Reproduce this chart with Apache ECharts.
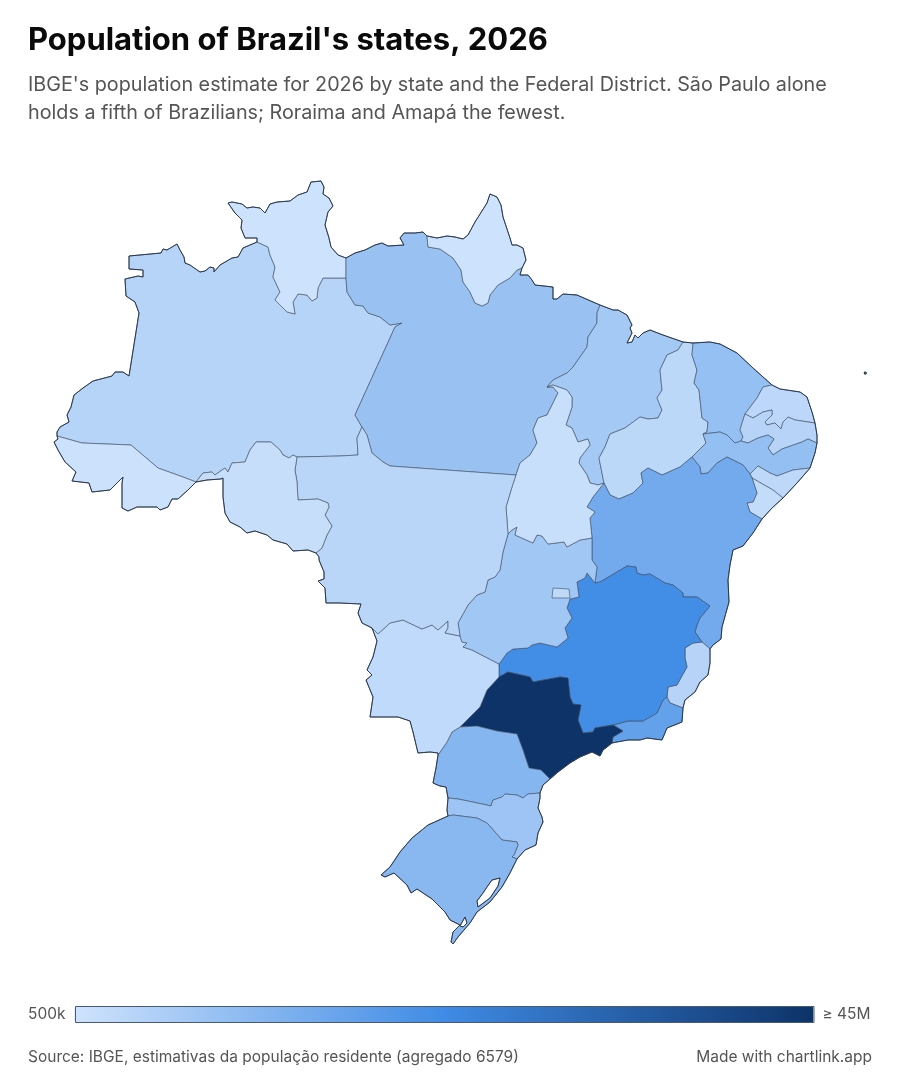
<!DOCTYPE html>
<html>
<head>
<meta charset="utf-8">
<title>Population of Brazil's states, 2026</title>
<script src="https://cdn.jsdelivr.net/npm/echarts@6/dist/echarts.min.js"></script>
<style>
html,body{margin:0;padding:0;background:#fff}
#chart{width:900px;height:1080px}
</style>
</head>
<body>
<div id="chart"></div>
<script>
// population by state, millions
var stateNames = ['Amazonas','Roraima','Pará','Amapá','Maranhão','Piauí','Ceará','Rio Grande do Norte','Paraíba','Pernambuco','Alagoas','Sergipe','Bahia','Espírito Santo','Rio de Janeiro','Minas Gerais','São Paulo','Paraná','Santa Catarina','Rio Grande do Sul','Mato Grosso do Sul','Goiás','Tocantins','Mato Grosso','Rondônia','Acre','Distrito Federal'];
var statePop = [4.4,0.75,8.9,0.8,7.1,3.4,9.4,3.5,4.2,9.7,3.3,2.3,14.9,4.2,17.2,22.3,46.6,11.9,8.3,11.3,2.9,7.6,1.6,3.9,1.8,0.9,3.0];
var legendMin = 0.5;
var legendMax = 45;
var legendTexts = ['≥ 45M','500k'];

// state borders traced on a 19.46 units-per-degree grid, flat x,y lists, converted to lon/lat below
var arcs = {
 amOut:[57,436,57,432,60,427,69,422,67,415,71,407,74,395,83,388,93,381,112,376,115,372,123,372,129,376,139,313,135,302,126,296,125,279,138,276,143,277,143,270,129,269,129,256,161,253,163,249,167,250,177,244,180,250,184,257,185,263,190,265,200,272,205,271,210,267,214,268,214,272,220,265,232,258,238,257,243,248,250,245,257,242],
 rrOut:[257,242,257,238,245,238,241,228,242,220,235,213,228,203,232,202,242,204,247,208,253,207,260,208,265,213,270,204,277,202,290,201,298,195,307,192,311,182,321,181,324,187,323,194,329,198,333,206,328,212,325,225,329,238,331,247,338,255,346,258],
 paOut1:[346,258,355,253,365,250,375,245,382,243,388,246,404,245,400,238,404,233,415,233,423,232,427,236],
 apOut:[427,236,437,238,447,236,455,237,463,239,468,235,475,222,487,203,490,194,497,197,501,205,503,217,510,238,512,245,517,245,523,248,526,260,522,268],
 paOut2:[522,268,520,275,528,275,532,280,535,285,553,287,553,299,557,299,563,294,577,295,593,302,600,305],
 maOut:[600,305,613,310,618,310,627,315,632,325,630,328,632,333,627,343,632,342,635,335,638,338,643,333,650,330,663,335,683,342],
 piOut:[683,342,693,343],
 ceOut:[693,343,710,342,720,344,737,353,753,368,772,385],
 rnOut:[772,385,780,389,800,392,807,397,812,412,815,423],
 pbOut:[815,423,817,435,817,443],
 peOut:[817,443,815,453,810,468],
 alOut:[810,468,797,483,783,498],
 seOut:[783,498,772,508,762,519],
 baOut:[762,519,753,533,743,546,733,550,730,565,728,580,729,602,722,627,721,639,713,645,710,649],
 esOut:[710,649,710,663,708,675,700,682,695,692,685,700,683,708],
 rjOut:[683,708,682,722,667,728,662,740,647,738,640,740,628,740,617,742,612,743],
 spOut:[612,743,607,747,603,750,600,756,592,752,580,757,570,763,558,772,550,779],
 prOut1:[550,779,543,785,540,793],
 scOut1:[540,793,540,798,538,808,542,817,543,822,538,833,536,845,525,850,517,859],
 rsOut:[517,859,510,873,502,887,490,902,477,912,470,923,458,937,453,944,451,942,453,932,460,925,450,920,445,912,432,899,417,889,411,893,407,885,394,873,385,877,381,875,390,867,400,852,412,838,428,825,448,816],
 scOut2:[448,816,447,810,448,798],
 prOut2:[448,798,446,787,440,786,433,783,436,768,438,755],
 msOut:[438,755,438,753,430,752,418,753,413,732,410,721,398,717,370,717,373,697,366,680,372,675,367,670,373,657,377,641,372,628],
 mtOut:[372,628,362,623,358,613,361,604,340,603,326,603,325,588,318,581,324,579,324,572,319,560,319,557,316,553],
 roOut:[316,553,308,550,293,551,287,544,273,540,267,535,255,531,247,533,240,527,230,522,225,513,223,497,223,478,221,479,207,480,196,482],
 acOut:[196,482,188,490,178,499,172,499,168,507,160,510,157,507,137,507,128,511,122,508,122,483,123,477,110,490,92,492,89,483,72,481,76,472,65,462,58,450,54,442,58,439,57,436],
 amAc:[57,436,82,443,131,445,158,468,183,477,196,482],
 amRo:[196,482,203,473,212,472,215,475,222,470,225,468,228,472,232,463,245,462,250,450,256,442,271,442,280,450,283,455,289,458,293,455,297,457],
 roMt:[297,457,295,470,297,482,298,500,318,499,328,503,329,507,325,515,332,526,327,535,322,548,316,553],
 amMt:[362,427,357,438,358,455,340,456,297,457],
 amRr:[257,242,268,247,270,255,275,267,273,277,280,292,275,300,287,312,295,314,293,302,298,294,307,295,312,301,317,298,318,288,323,278,346,278],
 rrPa:[346,258,346,278],
 amPa:[346,278,347,292,355,305,363,306,368,313,380,317,390,325,402,323,395,327,355,415,362,427],
 paMt:[362,427,367,435,372,453,383,462,390,466,516,475],
 paAp:[427,236,428,247,440,249,453,258,461,270,463,282,470,292,475,303,482,306,488,303,490,295,498,285,510,278,517,270,522,268],
 paTo:[516,475,520,463,530,455,537,443,533,430,538,418,547,415,553,403,558,393,553,387,547,387],
 paMa:[600,305,597,313,597,323,588,337,587,347,573,367,567,373,553,380,547,387],
 toMa:[547,387,553,385,567,390,572,397,572,407,566,425,572,428,578,442,588,439,590,445,580,458,579,463,587,475,590,483,598,485,604,483],
 maPi:[683,342,678,350,667,355,660,370,662,390,657,398,662,410,658,418,648,419,640,417,625,428,610,434,605,447,599,458,602,473,604,483],
 toBa:[604,483,593,497,587,507,595,512,590,518,592,538],
 toGo:[592,538,580,540,567,547,564,542,548,544,542,536,537,535,533,543,515,535,517,527,512,530,508,534],
 toMt:[516,475,512,487,506,507,508,534],
 mtGo:[508,534,503,552,500,570,495,577,488,580,485,592,477,595,468,605,458,623,460,636],
 mtMs:[372,628,378,634,390,623,403,620,422,629,432,625,438,630,448,621,448,628,445,633,460,636],
 goMs:[460,636,462,642,467,643,463,647,472,650,499,664],
 goMg:[499,664,507,653,513,649,528,648,532,645,540,643,557,647,568,638,565,628,572,618,567,608,570,599,579,597,577,582,585,578,587,573,595,583],
 goBa:[592,538,592,548,592,560,597,567,595,583],
 mgBa:[595,583,600,582,617,572,627,566,636,567,637,573,643,575,650,574,665,583,673,585,683,593,683,597,697,597,710,606,700,618,697,625,695,632,702,642],
 baEs:[702,642,710,649],
 mgEs:[702,642,693,643,685,648,685,658,687,667,683,674,677,685,668,687,667,697],
 esRj:[667,697,670,703,683,708],
 mgRj:[667,697,663,700,657,713,643,721,628,721,613,725],
 spRj:[613,725,623,731,613,737,612,743],
 msMg:[499,664,499,677],
 spMg:[499,677,508,672,530,677,533,682,560,677,568,678,570,697,573,704,581,705,578,720,583,733,593,732,595,728,613,725],
 msSp:[499,677,487,690,480,707,460,727],
 msPr:[460,727,452,732,447,742,438,755],
 prSp:[460,727,477,726,497,731,517,734,523,750,529,768,541,770,550,779],
 prSc:[448,798,458,799,487,805,491,806,493,800,502,797,505,794,517,795,523,798,528,794,540,793],
 scRs:[448,816,453,815,477,818,487,823,495,832,502,840,517,842,518,845,514,855,512,857,517,859],
 piCe:[693,343,692,355,697,370,694,383,699,390,702,418,708,422,707,432,703,434],
 piPe:[703,434,706,443,692,457],
 piBa:[692,457,680,467,662,475,648,468,641,473,643,483,633,493,619,499,610,495,604,483],
 ceRn:[772,385,763,387,757,398,745,414],
 cePb:[745,414,742,423,740,430,743,437,741,441],
 cePe:[703,434,720,432,727,435,735,443,741,441],
 rnPb:[745,414,753,418,763,412,772,410,772,415,765,422,767,425,775,423,781,429,783,422,788,417,795,420,815,423],
 pbPe:[741,441,748,443,758,438,768,435,774,439,768,448,773,455,782,449,802,442,808,439,817,443],
 peBa:[692,457,700,467,701,474,708,473,717,463,727,457,743,465,750,474],
 peAl:[750,474,758,466,770,473,777,476,793,470,810,468],
 alBa:[750,474,752,478],
 alSe:[752,478,773,490,783,498],
 seBa:[752,478,757,493,753,502,747,503,750,512,762,519]
};

var stateRings = {
 'Amazonas':['amOut','amRr','amPa','amMt','-amRo','-amAc'],
 'Roraima':['rrOut','rrPa','-amRr'],
 'Pará':['paOut1','paAp','paOut2','paMa','-paTo','-paMt','-amPa','-rrPa'],
 'Amapá':['apOut','-paAp'],
 'Maranhão':['maOut','maPi','-toMa','-paMa'],
 'Piauí':['piOut','piCe','piPe','piBa','-maPi'],
 'Ceará':['ceOut','ceRn','cePb','-cePe','-piCe'],
 'Rio Grande do Norte':['rnOut','-rnPb','-ceRn'],
 'Paraíba':['pbOut','-pbPe','-cePb','rnPb'],
 'Pernambuco':['peOut','-peAl','-peBa','-piPe','cePe','pbPe'],
 'Alagoas':['alOut','-alSe','-alBa','peAl'],
 'Sergipe':['seOut','-seBa','alSe'],
 'Bahia':['baOut','-baEs','-mgBa','-goBa','-toBa','-piBa','peBa','alBa','seBa'],
 'Espírito Santo':['esOut','-esRj','-mgEs','baEs'],
 'Rio de Janeiro':['rjOut','-spRj','-mgRj','esRj'],
 'Minas Gerais':['mgBa','mgEs','mgRj','-spMg','-msMg','goMg'],
 'São Paulo':['spMg','spRj','spOut','-prSp','-msSp'],
 'Paraná':['prSp','prOut1','-prSc','prOut2','-msPr'],
 'Santa Catarina':['prSc','scOut1','-scRs','scOut2'],
 'Rio Grande do Sul':['scRs','rsOut'],
 'Mato Grosso do Sul':['goMs','msMg','msSp','msPr','msOut','mtMs'],
 'Goiás':['goBa','-goMg','-goMs','-mtGo','-toGo'],
 'Tocantins':['paTo','toMa','toBa','toGo','-toMt'],
 'Mato Grosso':['paMt','toMt','mtGo','-mtMs','mtOut','-roMt','-amMt'],
 'Rondônia':['amRo','roMt','roOut'],
 'Acre':['amAc','acOut']
};
var countryRing = ['amOut','rrOut','paOut1','apOut','paOut2','maOut','piOut','ceOut','rnOut','pbOut','peOut','alOut','seOut','baOut','esOut','rjOut','spOut','prOut1','scOut1','rsOut','scOut2','prOut2','msOut','mtOut','roOut','acOut'];
var dfRing = [553,588,569,589,570,598,552,598];
var trindade = [864.4,372,866.2,372.4,866.2,374,864.4,374];
var patos = [487,887,483,893,477,901,478,907,490,898,498,886,500,878,492,880];
var mirim = [463,927,467,923,465,917,460,926];

function toLonLat(x, y){
    return [-74 + (x - 55) / 19.46, 5.27 - (y - 180) / 19.46];
}
function flatRing(list){
    var out = [];
    for(var i = 0; i < list.length; i += 2){
        out.push(toLonLat(list[i], list[i + 1]));
    }
    out.push(out[0]);
    return out;
}
function joinRing(names){
    var flat = [];
    names.forEach(function(n){
        var rev = n.charAt(0) === '-';
        var pts = arcs[rev ? n.slice(1) : n];
        var part = [];
        for(var i = 0; i < pts.length; i += 2){
            part.push([pts[i], pts[i + 1]]);
        }
        if(rev) part.reverse();
        part.forEach(function(p, i){
            if(i === 0 && flat.length) return;
            flat.push(p[0], p[1]);
        });
    });
    return flatRing(flat.slice(0, flat.length - 2));
}
function feature(name, coords){
    return {type:'Feature', properties:{name:name}, geometry:{type:'MultiPolygon', coordinates:coords}};
}

var stateFeatures = Object.keys(stateRings).map(function(name){
    var polys = [[joinRing(stateRings[name])]];
    if(name === 'Rio Grande do Sul') polys[0].push(flatRing(patos), flatRing(mirim));
    if(name === 'Espírito Santo') polys.push([flatRing(trindade)]);
    return feature(name, polys);
});
stateFeatures.push(feature('Distrito Federal', [[flatRing(dfRing)]]));
echarts.registerMap('brazil', {type:'FeatureCollection', features:stateFeatures});
echarts.registerMap('brazil-outline', {type:'FeatureCollection', features:[
    feature('Brasil', [[joinRing(countryRing)], [flatRing(patos)], [flatRing(mirim)], [flatRing(trindade)]])
]});

var corners = [toLonLat(0, 0), toLonLat(900, 1080)];
var fontName = 'Inter';
var myChart = echarts.init(document.getElementById('chart'), null, {renderer:'canvas'});
var option = {
    backgroundColor:'#fff',
    animation:false,
    textStyle:{fontFamily:fontName},
    title:[
        {text:"Population of Brazil's states, 2026", left:28, top:25, padding:0,
         textStyle:{fontFamily:fontName, fontSize:31, fontWeight:700, color:'#0a0a0a'}},
        {text:"IBGE's population estimate for 2026 by state and the Federal District. São Paulo alone\nholds a fifth of Brazilians; Roraima and Amapá the fewest.", left:28, top:71, padding:0,
         textStyle:{fontFamily:fontName, fontSize:19.75, fontWeight:400, color:'#555', lineHeight:28}},
        {text:'Source: IBGE, estimativas da população residente (agregado 6579)', left:28, top:1049, padding:0,
         textStyle:{fontFamily:fontName, fontSize:15.5, fontWeight:400, color:'#555'}},
        {text:'Made with chartlink.app', right:28, top:1049, padding:0,
         textStyle:{fontFamily:fontName, fontSize:15.5, fontWeight:400, color:'#555'}}
    ],
    visualMap:{
        type:'continuous',
        seriesIndex:0,
        min:legendMin,
        max:legendMax,
        orient:'horizontal',
        left:28,
        top:1006,
        padding:0,
        itemWidth:17,
        itemHeight:739,
        text:legendTexts,
        textGap:9,
        textStyle:{fontFamily:fontName, fontSize:15.5, color:'#555'},
        calculable:false,
        realtime:false,
        inRange:{color:['#cfe3fc','#3f8be5','#0d3369']},
        borderWidth:0
    },
    series:[
        {
            type:'map',
            map:'brazil',
            left:0, top:0, width:900, height:1080,
            aspectScale:1,
            boundingCoords:corners,
            roam:false,
            silent:true,
            label:{show:false},
            emphasis:{disabled:true},
            select:{disabled:true},
            itemStyle:{borderColor:'#3b4a5e', borderWidth:0.6},
            data:stateNames.map(function(n, i){ return {name:n, value:statePop[i]}; })
        },
        {
            type:'map',
            map:'brazil-outline',
            left:0, top:0, width:900, height:1080,
            aspectScale:1,
            boundingCoords:corners,
            roam:false,
            silent:true,
            label:{show:false},
            emphasis:{disabled:true},
            select:{disabled:true},
            itemStyle:{areaColor:'rgba(0,0,0,0)', borderColor:'#2b3a4f', borderWidth:1},
            data:[]
        }
    ],
    graphic:[
        {type:'rect', silent:true, z:100, shape:{x:75.5, y:1006.5, width:738.5, height:16},
         style:{fill:null, stroke:'#4a5a70', lineWidth:1}}
    ]
};
myChart.setOption(option);
</script>
</body>
</html>
